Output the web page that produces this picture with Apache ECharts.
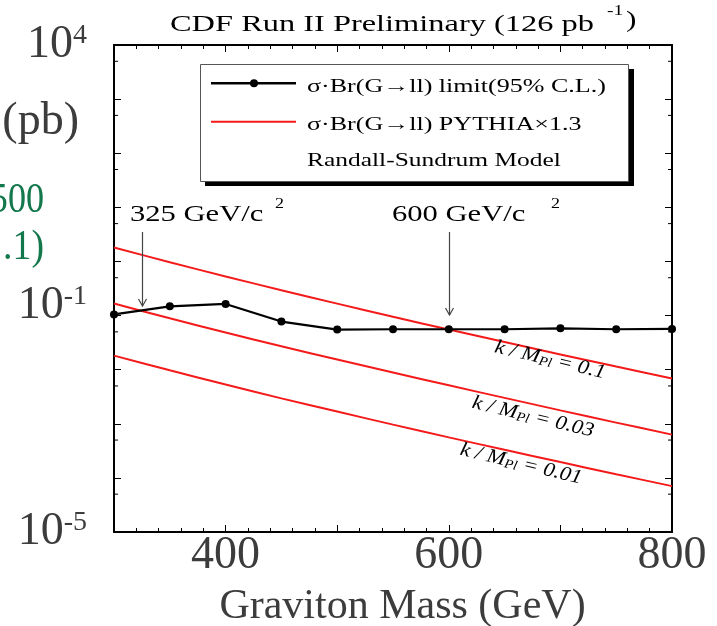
<!DOCTYPE html>
<html><head><meta charset="utf-8">
<script src="https://cdn.jsdelivr.net/npm/echarts@6/dist/echarts.min.js"></script>
<style>html,body{margin:0;padding:0;background:#fff}#c{width:717px;height:626px}</style>
</head><body><div id="c"></div>
<script>
// ---- data ----
const masses   = [300, 350, 400, 450, 500, 550, 600, 650, 700, 750, 800];           // GeV
const limit95  = [0.105, 0.148, 0.164, 0.0774, 0.0551, 0.0558, 0.0558, 0.0558, 0.0582, 0.0558, 0.0565];
const rsK010   = [1.81, 0.968, 0.528, 0.294, 0.166, 0.0950, 0.0551, 0.0324, 0.0191, 0.0114, 0.00689];
const rsK003   = [0.1667, 0.0891, 0.0487, 0.0270, 0.0154, 0.00885, 0.00514, 0.00301, 0.00177, 0.00105, 0.00063];
const rsK001   = [0.0182, 0.00973, 0.00531, 0.00295, 0.00168, 0.000964, 0.000561, 0.00033, 0.000196, 0.000117, 0.0000705];
const xTickLabels = [400, 600, 800];
const yLabelExponents = [4, -1, -5];
const yMinorTicks = [5e3, 5e2, 5e1, 5, 0.5, 0.05, 5e-3, 5e-4, 5e-5];
const X_MIN = 300, X_MAX = 800, Y_MIN = 1e-5, Y_MAX = 1e4;
const arrowMasses = [325, 600];

const NAME_LIMIT = 'σ·Br(G→ll) limit(95% C.L.)';
const NAME_RS = 'σ·Br(G→ll) PYTHIA×1.3';

const F = "'Liberation Serif','Times New Roman',serif";
const AX = '#3c3c3c';
const RED = '#f41a1a';
const pair = ys => masses.map((m, i) => [m, ys[i]]);

const chart = echarts.init(document.getElementById('c'), null, {renderer: 'canvas'});

const xCommon = {
  type: 'value', min: X_MIN, max: X_MAX, interval: 100,
  axisLine: {onZero: false, lineStyle: {color: '#000', width: 2}},
  axisTick: {inside: true, length: 7, lineStyle: {color: '#000', width: 1}},
  minorTick: {show: true, splitNumber: 5, length: 4, lineStyle: {color: '#000', width: 1}},
  splitLine: {show: false}, minorSplitLine: {show: false}
};
const yCommon = {
  type: 'log', logBase: 10, min: Y_MIN, max: Y_MAX,
  axisLine: {onZero: false, lineStyle: {color: '#000', width: 2}},
  axisTick: {inside: true, length: 7, lineStyle: {color: '#000', width: 1}},
  splitLine: {show: false}, minorTick: {show: false}, minorSplitLine: {show: false}
};

const option = {
  animation: false,
  backgroundColor: '#fff',
  legend: {show: false},
  grid: {left: 114, top: 45, width: 558, height: 487, containLabel: false, outerBoundsMode: 'none'},
  xAxis: [
    Object.assign({}, xCommon, {
      position: 'bottom',
      axisLabel: {margin: 1, fontSize: 46, fontFamily: F, color: AX,
        formatter: v => xTickLabels.includes(v) ? String(v) : ''},
      name: 'Graviton Mass (GeV)', nameLocation: 'middle', nameGap: 54,
      nameTextStyle: {fontSize: 42, fontFamily: F, color: AX, padding: [0, 0, 0, 19]}
    }),
    Object.assign({}, xCommon, {position: 'top', axisLabel: {show: false}})
  ],
  yAxis: [
    Object.assign({}, yCommon, {
      position: 'left',
      axisLabel: {
        margin: 27, fontFamily: F, color: AX,
        formatter: v => {
          const e = Math.round(Math.log10(v));
          if (!yLabelExponents.includes(e)) return '';
          return e === -1 ? '{b2|10}{s2|' + e + '}' : '{b|10}{s|' + e + '}';
        },
        rich: {
          b: {fontSize: 46, fontFamily: F, color: AX},
          s: {fontSize: 28, lineHeight: 34, verticalAlign: 'top', fontFamily: F, color: AX},
          b2: {fontSize: 46, fontFamily: F, color: AX, padding: [0, 0, 20, 0]},
          s2: {fontSize: 28, lineHeight: 34, verticalAlign: 'top', fontFamily: F, color: AX, padding: [0, 0, 20, 0]}
        }
      }
    }),
    Object.assign({}, yCommon, {position: 'right', axisLabel: {show: false}})
  ],
  series: [
    {name: NAME_RS, type: 'line', data: pair(rsK010), symbol: 'none', smooth: 0.3,
     lineStyle: {color: RED, width: 2}, itemStyle: {color: RED}, z: 3},
    {name: NAME_RS, type: 'line', data: pair(rsK003), symbol: 'none', smooth: 0.3,
     lineStyle: {color: RED, width: 2}, itemStyle: {color: RED}, z: 3},
    {name: NAME_RS, type: 'line', data: pair(rsK001), symbol: 'none', smooth: 0.3,
     lineStyle: {color: RED, width: 2}, itemStyle: {color: RED}, z: 3},
    {name: NAME_LIMIT, type: 'line', data: pair(limit95), symbol: 'circle', symbolSize: 8,
     lineStyle: {color: '#000', width: 2.2}, itemStyle: {color: '#000'}, z: 4},
    {name: 'yMinorTicks', type: 'custom', silent: true, clip: false, z: 5,
     data: yMinorTicks.map(v => [X_MIN, v]),
     renderItem: (params, api) => {
       const v = api.value(1);
       const L = api.coord([X_MIN, v]);
       const R = api.coord([X_MAX, v]);
       return {type: 'group', children: [
         {type: 'line', shape: {x1: L[0], y1: L[1], x2: L[0] + 4, y2: L[1]}, style: {stroke: '#000', lineWidth: 1}},
         {type: 'line', shape: {x1: R[0], y1: R[1], x2: R[0] - 4, y2: R[1]}, style: {stroke: '#000', lineWidth: 1}}
       ]};
     }}
  ]
};
chart.setOption(option);

// ---- annotations (text, legend box, arrows) ----
function txt(x, y, text, size, opts) {
  opts = opts || {};
  return {type: 'text', x: x, y: y, scaleX: opts.sx || 1, rotation: opts.rot || 0, z: 100,
    style: {text: text, fontSize: size, fontFamily: F, fontStyle: opts.italic ? 'italic' : 'normal',
      fill: opts.color || '#000', align: opts.align || 'left', verticalAlign: 'middle', rich: opts.rich}};
}
const g = [];
// cut-off text of the surrounding slide
g.push(txt(79, 122, '(pb)', 46, {color: AX, align: 'right'}));
g.push(txt(44, 201, '500', 42, {color: '#13784c', align: 'right', sx: 0.86}));
g.push(txt(44, 248, '.1)', 42, {color: '#13784c', align: 'right', sx: 0.9}));
// title
g.push(txt(170, 25.5, 'CDF Run II Preliminary (126 pb', 22.5, {sx: 1.44}));
g.push(txt(607, 11, '-1', 14, {sx: 1.4}));
g.push(txt(626, 21, ')', 24, {sx: 1.3}));
// legend box
g.push({type: 'rect', z: 98, shape: {x: 205, y: 69, width: 429, height: 117}, style: {fill: '#000'}});
g.push({type: 'rect', z: 99, shape: {x: 200.5, y: 64.5, width: 428, height: 117}, style: {fill: '#fff', stroke: '#555', lineWidth: 1}});
g.push({type: 'line', z: 100, shape: {x1: 211, y1: 83.3, x2: 296, y2: 83.3}, style: {stroke: '#000', lineWidth: 2.5}});
g.push({type: 'circle', z: 100, shape: {cx: 254, cy: 83.3, r: 4}, style: {fill: '#000'}});
g.push({type: 'line', z: 100, shape: {x1: 211, y1: 121.7, x2: 296, y2: 121.7}, style: {stroke: RED, lineWidth: 2}});
g.push(txt(307, 87, NAME_LIMIT, 19, {sx: 1.37}));
g.push(txt(307, 125, NAME_RS, 19, {sx: 1.37}));
g.push(txt(307, 161, 'Randall-Sundrum Model', 19, {sx: 1.34}));
// mass annotations
g.push(txt(130, 214.5, '325 GeV/c', 23, {sx: 1.33}));
g.push(txt(275, 204, '2', 15, {sx: 1.2}));
g.push(txt(392, 214.5, '600 GeV/c', 23, {sx: 1.33}));
g.push(txt(551, 204, '2', 15, {sx: 1.2}));
// curve labels
const rot = -13.5 * Math.PI / 180;
const kRich = {
  i: {fontSize: 20, fontFamily: F, fontStyle: 'italic', fill: '#000'},
  sub: {fontSize: 13, lineHeight: 13, verticalAlign: 'bottom', fontFamily: F, fontStyle: 'italic', fill: '#000'}
};
g.push(txt(550, 360, '{i|k / M}{sub|Pl}{i| = 0.1}', 20, {rot: rot, sx: 1.12, align: 'center', rich: kRich}));
g.push(txt(533, 417, '{i|k / M}{sub|Pl}{i| = 0.03}', 20, {rot: rot, sx: 1.12, align: 'center', rich: kRich}));
g.push(txt(521, 464, '{i|k / M}{sub|Pl}{i| = 0.01}', 20, {rot: rot, sx: 1.12, align: 'center', rich: kRich}));
// arrows
const arrowTips = [306, 315];
arrowMasses.forEach((m, i) => {
  const px = Math.round(chart.convertToPixel({xAxisIndex: 0}, m)) + 0.5;
  const tip = arrowTips[i];
  g.push({type: 'line', z: 100, shape: {x1: px, y1: 232, x2: px, y2: tip}, style: {stroke: '#444', lineWidth: 1.2}});
  g.push({type: 'polyline', z: 100, shape: {points: [[px - 4, tip - 7], [px, tip], [px + 4, tip - 7]]},
          style: {stroke: '#444', lineWidth: 1.2, fill: null}});
});
chart.setOption({graphic: {elements: g}});
</script></body></html>
